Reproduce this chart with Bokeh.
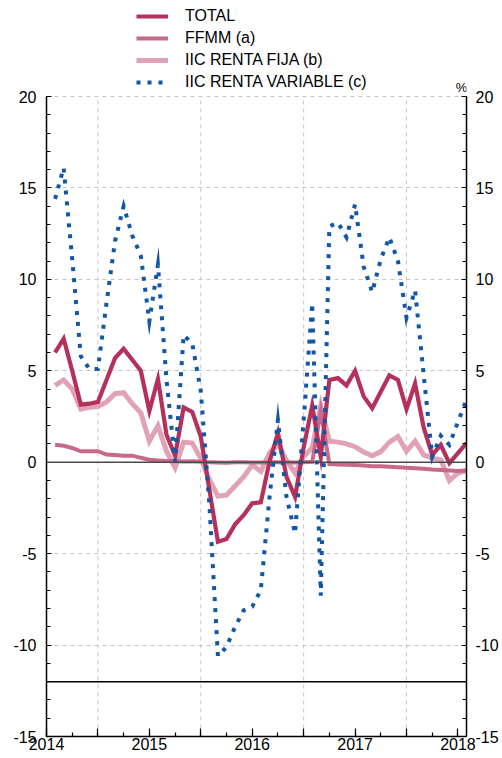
from bokeh.plotting import figure
from bokeh.models import Range1d, LinearAxis, FixedTicker, Span, Legend, LegendItem, Label
from bokeh.embed import file_html
from bokeh.resources import INLINE

# ---- data (monthly, Jan 2014 - Jan 2018), % ----
months = ["%d-%02d" % (2014 + i // 12, i % 12 + 1) for i in range(49)]

total = [6.0, 6.75, 5.0, 3.15, 3.2, 3.3, 4.5, 5.7, 6.2, 5.6, 5.0, 2.8,
         4.55, 1.5, 0.35, 3.0, 2.75, 1.4, -1.5, -4.35, -4.2, -3.4, -2.9, -2.25,
         -2.2, 0.0, 1.6, -0.8, -1.9, 0.8, 3.1, 0.3, 4.5, 4.6, 4.2, 5.0,
         3.6, 2.95, 3.85, 4.75, 4.5, 2.9, 4.3, 1.9, 0.4, 0.95, -0.05, 0.5, 1.05]

ffmm = [0.95, 0.9, 0.78, 0.6, 0.6, 0.6, 0.42, 0.4, 0.35, 0.36, 0.24, 0.14,
        0.1, 0.07, 0.05, 0.04, 0.05, 0.02, 0.0, -0.02, -0.03, 0.0, 0.0, -0.02,
        -0.01, 0.0, 0.0, 0.0, -0.02, 0.0, 0.02, 2.8, -0.1, -0.12, -0.14, -0.15,
        -0.18, -0.22, -0.22, -0.25, -0.27, -0.3, -0.33, -0.36, -0.4, -0.42, -0.45, -0.48, -0.45]

renta_fija = [4.2, 4.5, 4.0, 2.9, 3.0, 3.05, 3.3, 3.75, 3.8, 3.2, 2.7, 1.15,
              2.0, 0.6, -0.3, 1.1, 1.05, 0.2, -0.95, -1.85, -1.8, -1.3, -0.8, -0.15,
              -0.5, 0.5, 1.0, 0.1, -0.6, 0.3, 0.8, 3.1, 1.15, 1.1, 1.0, 0.85,
              0.55, 0.35, 0.58, 1.1, 1.4, 0.6, 1.15, 0.4, 0.22, 0.13, -1.0, -0.6, -0.45]

renta_variable = [14.4, 16.1, 11.1, 5.8, 5.1, 5.1, 8.7, 12.1, 14.0, 12.4, 11.3, 7.7,
                  10.8, 4.5, 0.05, 6.95, 6.5, 3.9, -2.3, -10.6, -10.1, -9.0, -8.1, -7.9,
                  -7.0, -2.0, 2.3, -1.9, -3.9, 2.3, 8.7, -7.3, 12.9, 13.1, 12.3, 14.1,
                  10.7, 9.3, 11.1, 12.3, 11.0, 7.9, 9.4, 4.8, 0.3, 1.45, 0.95, 2.2, 3.4]

year_ticks = [0, 12, 24, 36, 48]          # month offsets from Jan 2014
year_labels = ["2014", "2015", "2016", "2017", "2018"]
half_year_ticks = [6, 18, 30, 42]
quarter_ticks = list(range(0, 49, 3))
y_major = [-15, -10, -5, 0, 5, 10, 15, 20]
y_labels = ["-15", "-10", "-5", "0", "5", "10", "15", "20"]
y_minor = list(range(-15, 21))
y_grid = [-10, -5, 5, 10, 15, 20]
y_min, y_max = -15, 20
zero_level = 0
ref_level = -12

x = [i + 1 for i in range(len(months))]

C_TOTAL = "#B5305A"
C_FFMM = "#C8698A"
C_RF = "#E2A2B6"
C_RV = "#1257A6"
FONT = "Liberation Sans"
GRID = "#c4c4c4"

# frame spans the whole top of the figure so the legend (inside) stays visible;
# the extra headroom above 20 holds the legend.
p = figure(width=502, height=758, x_range=Range1d(0, 49), y_range=Range1d(y_min, 25.25),
           output_backend="svg", toolbar_location=None,
           min_border_left=46, min_border_right=36, min_border_top=0, min_border_bottom=22,
           background_fill_color="white", border_fill_color="white")
p.outline_line_color = None

# x axis
xa = p.xaxis[0]
xa.ticker = FixedTicker(ticks=sorted(year_ticks + half_year_ticks), minor_ticks=quarter_ticks)
ov = {t: "" for t in half_year_ticks}
ov.update({t: l for t, l in zip(year_ticks, year_labels)})
xa.major_label_overrides = ov
xa.major_tick_in = 8
xa.major_tick_out = 0
xa.minor_tick_in = 4
xa.minor_tick_out = 0
xa.major_label_standoff = 1

y_ov = {t: l for t, l in zip(y_major, y_labels)}

# left y axis
ya = p.yaxis[0]
ya.ticker = FixedTicker(ticks=y_major, minor_ticks=y_minor)
ya.bounds = (y_min, y_max)
ya.major_label_overrides = y_ov
ya.major_tick_in = 5
ya.major_tick_out = 0
ya.minor_tick_in = 4
ya.minor_tick_out = 0
ya.major_label_standoff = 10

# right y axis
yr = LinearAxis(ticker=FixedTicker(ticks=y_major, minor_ticks=y_minor), bounds=(y_min, y_max))
yr.major_label_overrides = y_ov
yr.major_tick_in = 5
yr.major_tick_out = 0
yr.minor_tick_in = 4
yr.minor_tick_out = 0
yr.major_label_standoff = 9
p.add_layout(yr, "right")

for ax in [xa, ya, yr]:
    ax.axis_line_color = "black"
    ax.axis_line_width = 1.5
    ax.major_tick_line_color = "black"
    ax.minor_tick_line_color = "black"
    ax.major_tick_line_width = 1.2
    ax.minor_tick_line_width = 1.2
    ax.major_label_text_font = FONT
    ax.major_label_text_font_size = "16px"
    ax.major_label_text_color = "black"

# grids
p.xgrid.visible = False
p.ygrid[0].ticker = FixedTicker(ticks=y_grid)
p.ygrid[0].grid_line_color = GRID
p.ygrid[0].grid_line_dash = "4 4"
p.ygrid[0].grid_line_width = 1
p.segment(x0=half_year_ticks, x1=half_year_ticks,
          y0=[y_min] * len(half_year_ticks), y1=[y_max] * len(half_year_ticks),
          line_color=GRID, line_dash="4 4", line_width=1, level="underlay")

# series
r_rf = p.line(x, renta_fija, line_color=C_RF, line_width=5, line_join="miter")
r_ffmm = p.line(x, ffmm, line_color=C_FFMM, line_width=4, line_join="miter")
r_total = p.line(x, total, line_color=C_TOTAL, line_width=4.2, line_join="miter")
r_rv = p.line(x, renta_variable, line_color=C_RV, line_width=4, line_dash="4 7", line_join="miter")

p.add_layout(Span(location=zero_level, dimension="width", line_color="#4a4a4a", line_width=1.6))
p.add_layout(Span(location=ref_level, dimension="width", line_color="black", line_width=1.5))

legend = Legend(items=[
    LegendItem(label="TOTAL", renderers=[r_total]),
    LegendItem(label="FFMM (a)", renderers=[r_ffmm]),
    LegendItem(label="IIC RENTA FIJA (b)", renderers=[r_rf]),
    LegendItem(label="IIC RENTA VARIABLE (c)", renderers=[r_rv]),
], location=(90, 643))
legend.glyph_width = 32
legend.glyph_height = 22
legend.label_height = 22
legend.spacing = 0
legend.padding = 0
legend.margin = 0
legend.label_standoff = 17
legend.border_line_color = None
legend.background_fill_alpha = 0
legend.label_text_font = FONT
legend.label_text_font_size = "16px"
legend.label_text_color = "black"
p.add_layout(legend)

p.add_layout(Label(x=49, y=y_max, text="%", text_align="center", text_baseline="bottom",
                   x_offset=-5, y_offset=2, text_font=FONT, text_font_size="13px",
                   text_color="black"))

open("out.html", "w").write(file_html(p, INLINE))
